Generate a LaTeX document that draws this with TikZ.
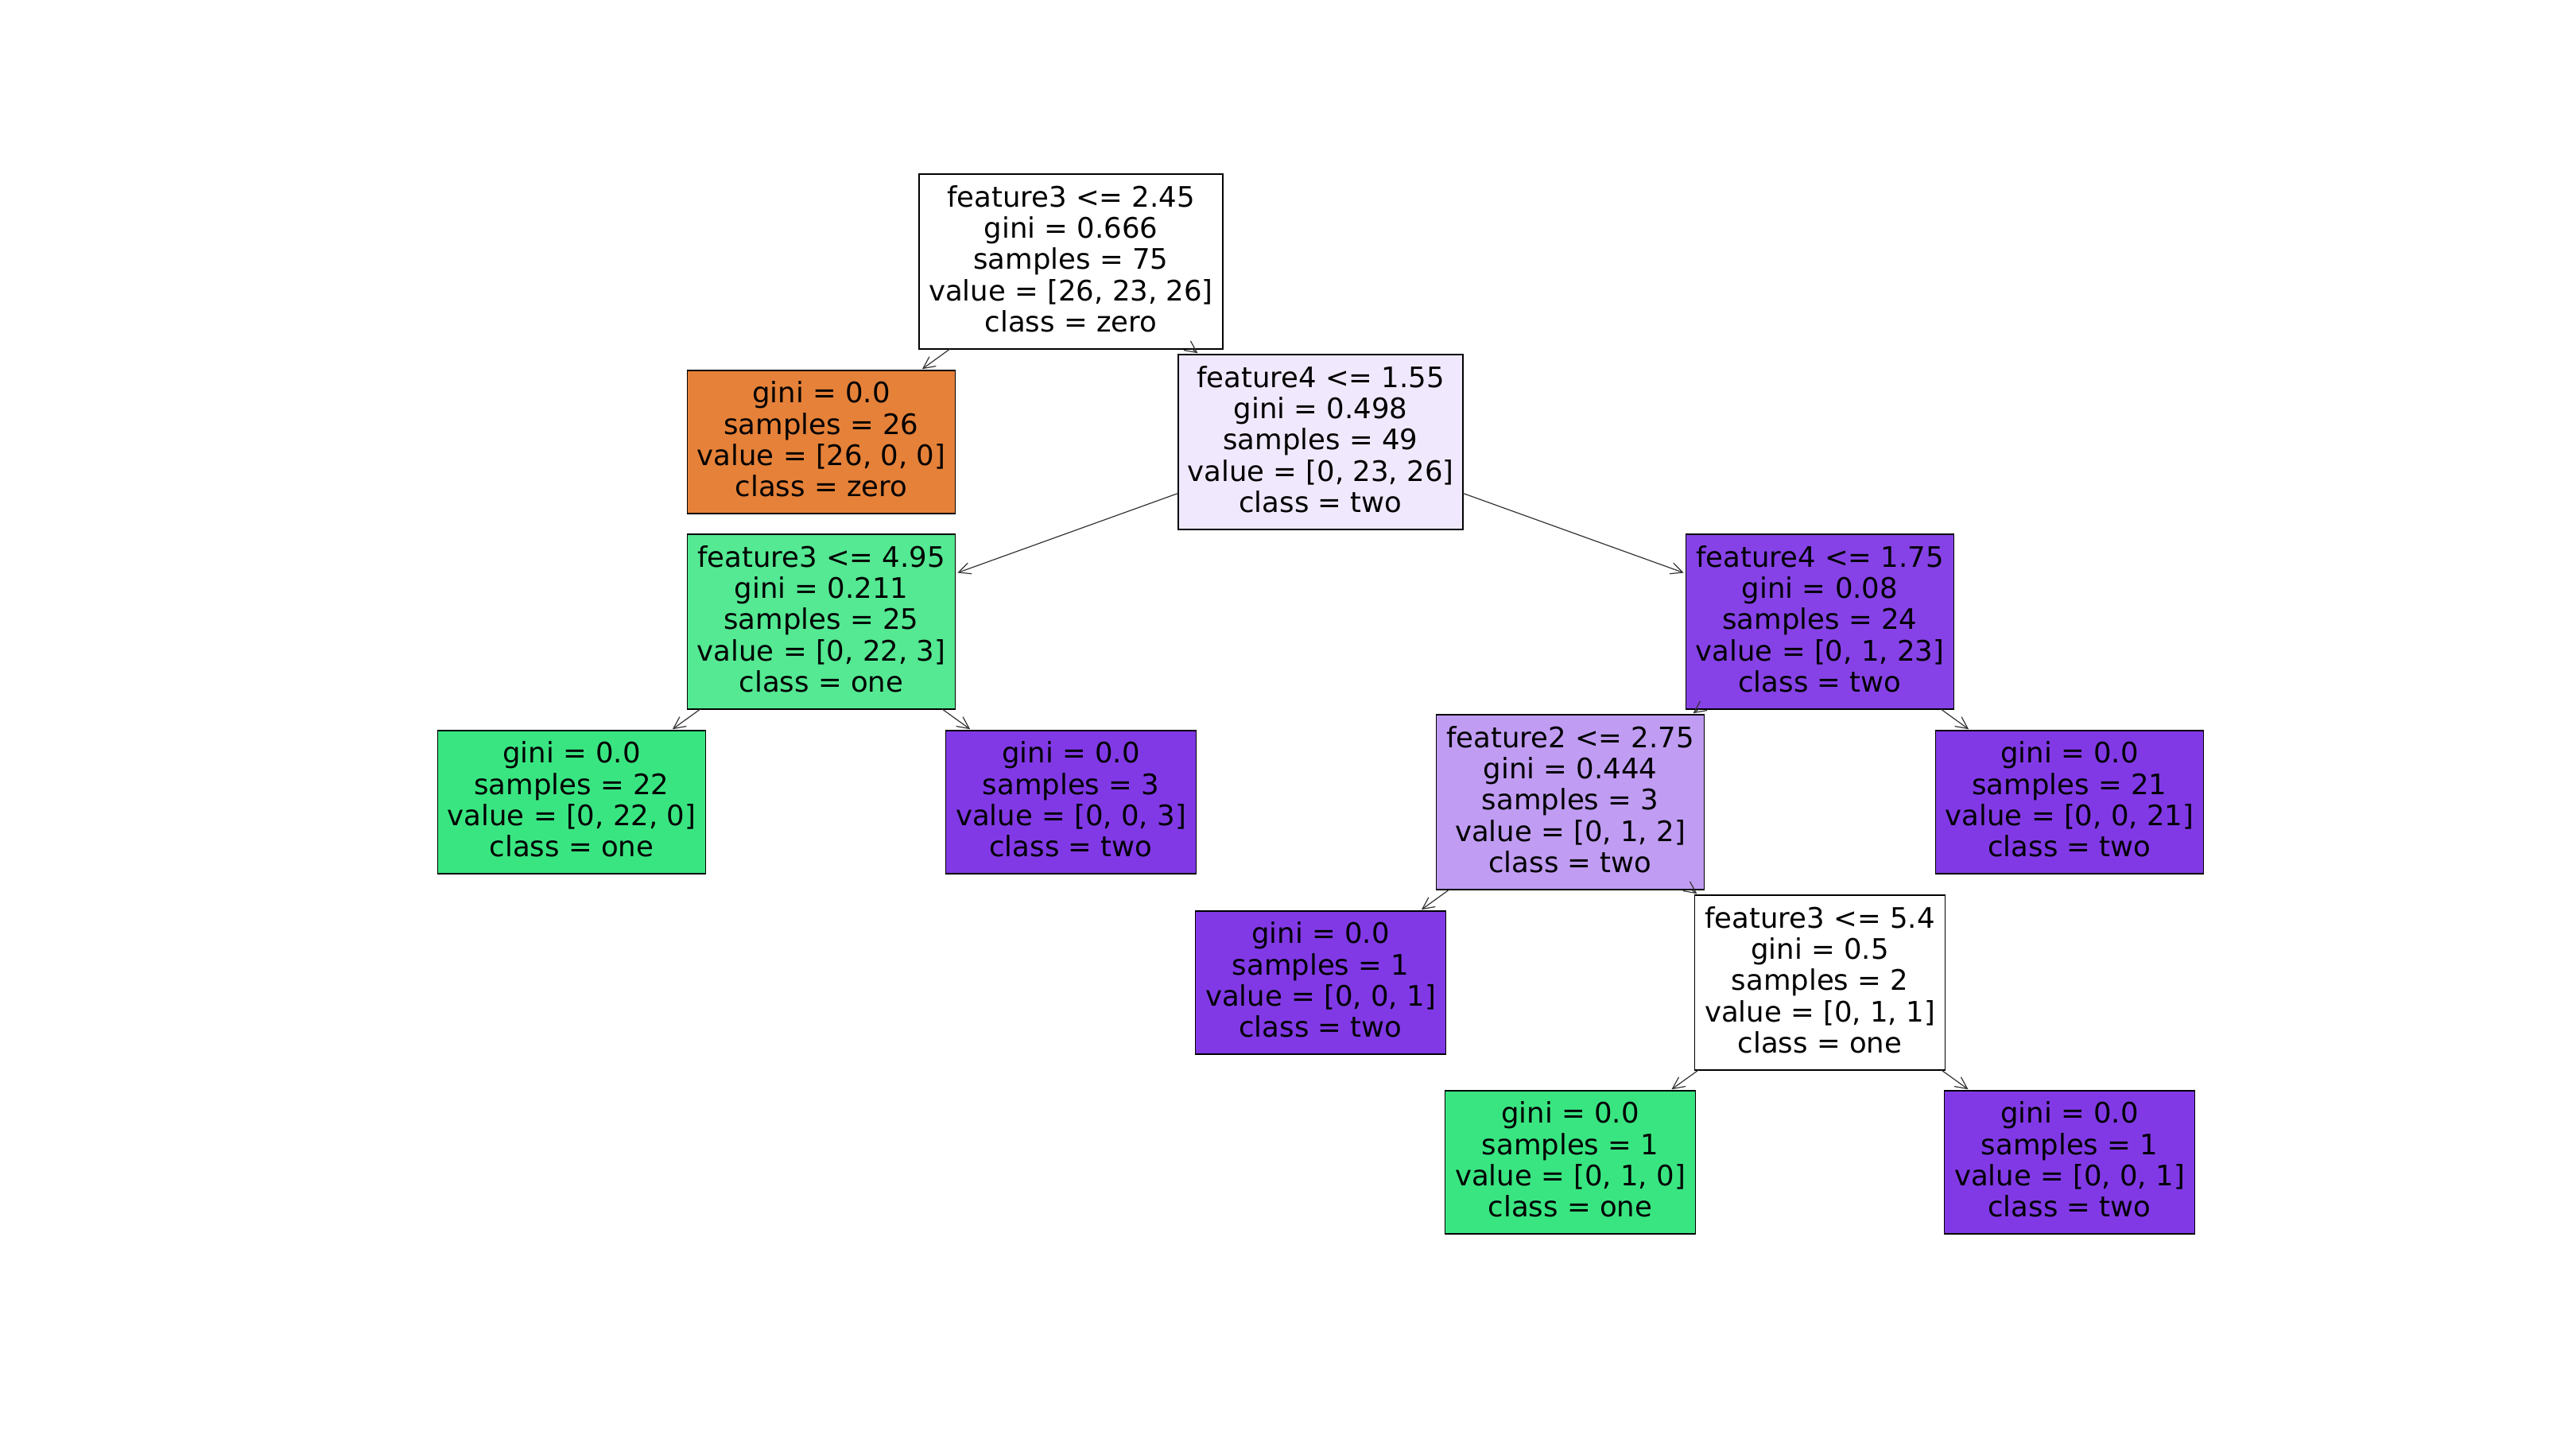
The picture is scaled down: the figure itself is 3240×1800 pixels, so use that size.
\documentclass[tikz,border=0pt]{standalone}
\usepackage{fontspec}
\setmainfont{DejaVu Sans}
\usetikzlibrary{arrows.meta}
\definecolor{corange}{RGB}{229,129,57}
\definecolor{cgreen}{RGB}{57,229,129}
\definecolor{cpurple}{RGB}{129,57,229}
\definecolor{cpaleviolet}{RGB}{240,232,252}
\definecolor{cmidgreen}{RGB}{84,233,146}
\definecolor{cdeeppurple}{RGB}{134,66,230}
\definecolor{clilac}{RGB}{192,156,242}
\begin{document}
\begin{tikzpicture}[x=0.1mm,y=-0.1mm,
  box/.style={draw=black, line width=0.15mm, rectangle, inner sep=0pt, outer sep=0pt,
    align=center, font=\fontsize{10.1pt}{11.17pt}\selectfont},
  splitbox/.style={box, minimum height=22mm},
  leafbox/.style={box, minimum height=18mm},
  wA/.style={minimum width=38.2mm},
  wB/.style={minimum width=35.8mm},
  wC/.style={minimum width=33.7mm},
  wD/.style={minimum width=31.5mm},
  edge/.style={draw=black!80, line width=0.12mm,
    -{Straight Barb[length=1.5mm,width=1.45mm]}, shorten >=0.3mm}]
\fill[white] (0,0) rectangle (3240,1800);
\useasboundingbox (0,0) rectangle (3240,1800);

\node[splitbox, wA, fill=white] (n1) at (1347,329)
  {feature3 <= 2.45\\gini = 0.666\\samples = 75\\value = [26, 23, 26]\\class = zero\vphantom{p}};
\node[leafbox, wC, fill=corange] (n2) at (1033,556)
  {gini = 0.0\\samples = 26\\value = [26, 0, 0]\\class = zero\vphantom{p}};
\node[splitbox, wB, fill=cpaleviolet] (n3) at (1661,556)
  {feature4 <= 1.55\\gini = 0.498\\samples = 49\\value = [0, 23, 26]\\class = two\vphantom{p}};
\node[splitbox, wC, fill=cmidgreen] (n4) at (1033,782)
  {feature3 <= 4.95\\gini = 0.211\\samples = 25\\value = [0, 22, 3]\\class = one\vphantom{p}};
\node[splitbox, wC, fill=cdeeppurple] (n5) at (2289,782)
  {feature4 <= 1.75\\gini = 0.08\\samples = 24\\value = [0, 1, 23]\\class = two\vphantom{p}};
\node[leafbox, wC, fill=cgreen] (n6) at (719,1009)
  {gini = 0.0\\samples = 22\\value = [0, 22, 0]\\class = one\vphantom{p}};
\node[leafbox, wD, fill=cpurple] (n7) at (1347,1009)
  {gini = 0.0\\samples = 3\\value = [0, 0, 3]\\class = two\vphantom{p}};
\node[splitbox, wC, fill=clilac] (n8) at (1975,1009)
  {feature2 <= 2.75\\gini = 0.444\\samples = 3\\value = [0, 1, 2]\\class = two\vphantom{p}};
\node[leafbox, wC, fill=cpurple] (n9) at (2603,1009)
  {gini = 0.0\\samples = 21\\value = [0, 0, 21]\\class = two\vphantom{p}};
\node[leafbox, wD, fill=cpurple] (n10) at (1661,1236)
  {gini = 0.0\\samples = 1\\value = [0, 0, 1]\\class = two\vphantom{p}};
\node[splitbox, wD, fill=white] (n11) at (2289,1236)
  {feature3 <= 5.4\\gini = 0.5\\samples = 2\\value = [0, 1, 1]\\class = one\vphantom{p}};
\node[leafbox, wD, fill=cgreen] (n12) at (1975,1462)
  {gini = 0.0\\samples = 1\\value = [0, 1, 0]\\class = one\vphantom{p}};
\node[leafbox, wD, fill=cpurple] (n13) at (2603,1462)
  {gini = 0.0\\samples = 1\\value = [0, 0, 1]\\class = two\vphantom{p}};

\draw[edge] (n1) -- (n2);
\draw[edge] (n1) -- (n3);
\draw[edge] (n3) -- (n4);
\draw[edge] (n3) -- (n5);
\draw[edge] (n4) -- (n6);
\draw[edge] (n4) -- (n7);
\draw[edge] (n5) -- (n8);
\draw[edge] (n5) -- (n9);
\draw[edge] (n8) -- (n10);
\draw[edge] (n8) -- (n11);
\draw[edge] (n11) -- (n12);
\draw[edge] (n11) -- (n13);
\end{tikzpicture}
\end{document}
